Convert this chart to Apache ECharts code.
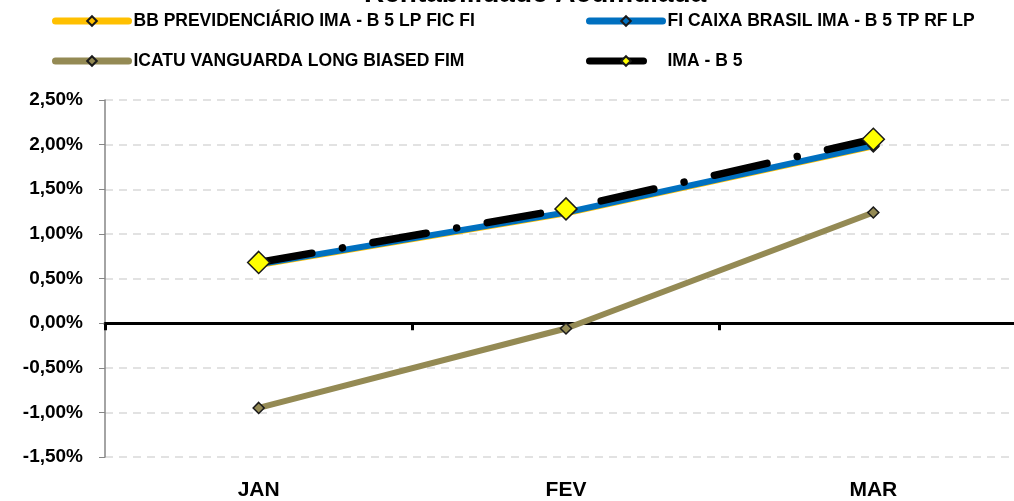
<!DOCTYPE html>
<html>
<head>
<meta charset="utf-8">
<script src="https://cdn.jsdelivr.net/npm/echarts@6/dist/echarts.min.js"></script>
<style>html,body{margin:0;padding:0;background:#fff;overflow:hidden}#c{width:1027px;height:501px}</style>
</head>
<body>
<div id="c"></div>
<script>
const categories = ['JAN', 'FEV', 'MAR'];
const seriesNames = ['BB PREVIDENCIÁRIO IMA - B 5 LP FIC FI', 'FI CAIXA BRASIL IMA - B 5 TP RF LP', 'ICATU VANGUARDA LONG BIASED FIM', 'IMA - B 5'];
const bbPrev = [0.65, 1.23, 1.98];
const fiCaixa = [0.66, 1.24, 1.99];
const icatu = [-0.95, -0.06, 1.24];
const imaB5 = [0.68, 1.28, 2.06];
const yTicks = { min: -1.5, max: 2.5, interval: 0.5 };

const FONT = '"Liberation Sans", Arial, sans-serif';
const chart = echarts.init(document.getElementById('c'), null, { renderer: 'canvas' });

function fmt(v) { return v.toFixed(2).replace('.', ',') + '%'; }

function legendAt(name, left, top) {
  return {
    show: true, data: [name], left: left, top: top, padding: 0,
    itemWidth: 73, itemHeight: 12, itemGap: 5,
    textStyle: { fontFamily: FONT, fontWeight: 'bold', fontSize: 17.5, color: '#000' },
    lineStyle: { width: 7, cap: 'round' },
    selectedMode: false
  };
}

const option = {
  animation: false,
  backgroundColor: '#fff',
  title: {
    text: 'Rentabilidade Acumulada', left: 364, top: -20, padding: 0,
    textStyle: { fontFamily: FONT, fontWeight: 'bold', fontSize: 28, color: '#000' }
  },
  legend: [
    legendAt(seriesNames[0], 52, 12),
    legendAt(seriesNames[1], 586, 12),
    legendAt(seriesNames[2], 52, 52),
    legendAt(seriesNames[3], 586, 52)
  ],
  grid: { left: 105, right: 0, top: 100, bottom: 44, containLabel: false },
  xAxis: [
    {
      type: 'category', data: categories, position: 'bottom', boundaryGap: true,
      axisLine: { show: false, onZero: false }, axisTick: { show: false },
      axisLabel: { fontFamily: FONT, fontWeight: 'bold', fontSize: 21, color: '#000', margin: 23 },
      splitLine: { show: false }
    },
    {
      type: 'category', data: categories, position: 'top', boundaryGap: true,
      axisLine: { show: true, onZero: true, lineStyle: { color: '#000', width: 3 } },
      axisTick: { show: true, inside: true, length: 7, lineStyle: { color: '#000', width: 3 } },
      axisLabel: { show: false }, splitLine: { show: false }
    }
  ],
  yAxis: {
    type: 'value', min: yTicks.min, max: yTicks.max, interval: yTicks.interval,
    axisLine: { show: true, onZero: false, lineStyle: { color: '#868686', width: 1.5 } },
    axisTick: { show: true, length: 6, lineStyle: { color: '#868686', width: 1 } },
    axisLabel: { fontFamily: FONT, fontWeight: 'bold', fontSize: 19, color: '#000', margin: 22, formatter: fmt },
    splitLine: { show: true, lineStyle: { color: '#d9d9d9', width: 1.5, type: [8, 6] } }
  },
  series: [
    {
      name: seriesNames[0], type: 'line', data: bbPrev, xAxisIndex: 0,
      symbol: 'diamond', symbolSize: 11,
      lineStyle: { color: '#FFC000', width: 6, cap: 'round' },
      itemStyle: { color: '#FFC000', borderColor: '#1a1a1a', borderWidth: 1.5 }, z: 2
    },
    {
      name: seriesNames[1], type: 'line', data: fiCaixa, xAxisIndex: 0,
      symbol: 'diamond', symbolSize: 11,
      lineStyle: { color: '#0070C0', width: 6, cap: 'round' },
      itemStyle: { color: '#0070C0', borderColor: '#1a1a1a', borderWidth: 1.5 }, z: 3
    },
    {
      name: seriesNames[2], type: 'line', data: icatu, xAxisIndex: 0,
      symbol: 'diamond', symbolSize: 11,
      lineStyle: { color: '#948A54', width: 6, cap: 'round' },
      itemStyle: { color: '#948A54', borderColor: '#1a1a1a', borderWidth: 1.5 }, z: 4
    },
    {
      name: seriesNames[3], type: 'line', data: imaB5, xAxisIndex: 0,
      symbol: 'diamond', symbolSize: 22,
      lineStyle: { color: '#000', width: 7.5, cap: 'round', type: [54, 31, 0.01, 31] },
      itemStyle: { color: '#FFFF00', borderColor: '#1a1a1a', borderWidth: 1.5 }, z: 5
    }
  ]
};
chart.setOption(option);
</script>
</body>
</html>
